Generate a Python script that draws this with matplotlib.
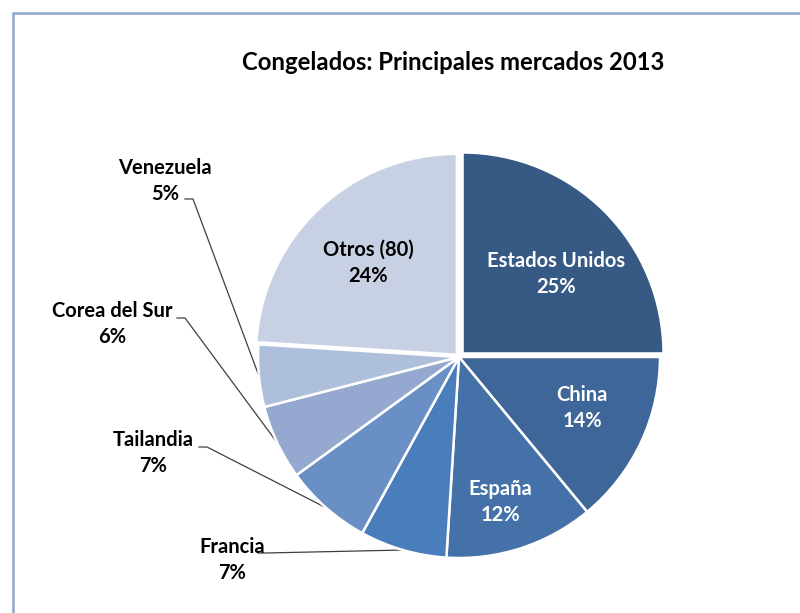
import numpy as np
import matplotlib
matplotlib.use("Agg")
import matplotlib.pyplot as plt
from matplotlib.patches import Rectangle

# data
markets = ["Estados Unidos", "China", "España", "Francia", "Tailandia",
           "Corea del Sur", "Venezuela", "Otros (80)"]
shares = [25, 14, 12, 7, 7, 6, 5, 24]

colors = ["#375A84", "#3E6698", "#4472A8", "#4A7DBB", "#6A8FC4",
          "#94A8D0", "#AEBFDC", "#C8D1E4"]
# explode is in data units here (pixels)
explode = [5, 0, 0, 0, 0, 0, 0, 3]

W, H = 800, 613
CX, CY, R = 459, H - 357, 201

# label spots in pixel coords (x, y from top)
inside = {0: (556, 274, "white"), 1: (582, 408, "white"),
          2: (500, 502, "white"), 7: (368, 263, "black")}
outside = {3: (232, 560, (266, 553)), 4: (153, 453, (207, 447)),
           5: (112, 324, (185, 318)), 6: (165, 181, (193, 199))}

plt.rcParams["font.family"] = ["Lato", "DejaVu Sans"]

fig = plt.figure(figsize=(W / 100, H / 100), dpi=100)
ax = fig.add_axes([0, 0, 1, 1])
wedges, _ = ax.pie(shares, colors=colors, explode=explode, startangle=90,
                   counterclock=False, center=(CX, CY), radius=R,
                   wedgeprops=dict(edgecolor="white", linewidth=1.8))
ax.set_xlim(0, W)
ax.set_ylim(0, H)
ax.set_aspect("equal")
ax.axis("off")

for i, (name, val) in enumerate(zip(markets, shares)):
    txt = f"{name}\n{val}%"
    if i in inside:
        x, y, c = inside[i]
        ax.text(x, H - y, txt, ha="center", va="center", color=c,
                fontsize=14.5, fontweight="bold", linespacing=1.4)
    else:
        x, y, start = outside[i]
        ax.text(x, H - y, txt, ha="center", va="center", color="black",
                fontsize=14.5, fontweight="bold", linespacing=1.4)
        w = wedges[i]
        th = np.deg2rad((w.theta1 + w.theta2) / 2)
        ex, ey = w.center[0] + R * np.cos(th), w.center[1] + R * np.sin(th)
        sx, sy = start
        ax.plot([sx - 8, sx, ex], [H - sy, H - sy, ey], color="#404040",
                lw=0.9, zorder=0)

ax.text(453, H - 62, "Congelados: Principales mercados 2013", ha="center",
        va="center", fontsize=17.2, fontweight="bold")

# chart frame (only left/top edges visible in the crop)
fig.patches.append(Rectangle((13 / W, -0.1), 1.2, 1.1 - 13 / H,
                             transform=fig.transFigure, fill=False,
                             edgecolor="#8FA5CC", lw=1.8))

fig.savefig("out.png", dpi=100)
